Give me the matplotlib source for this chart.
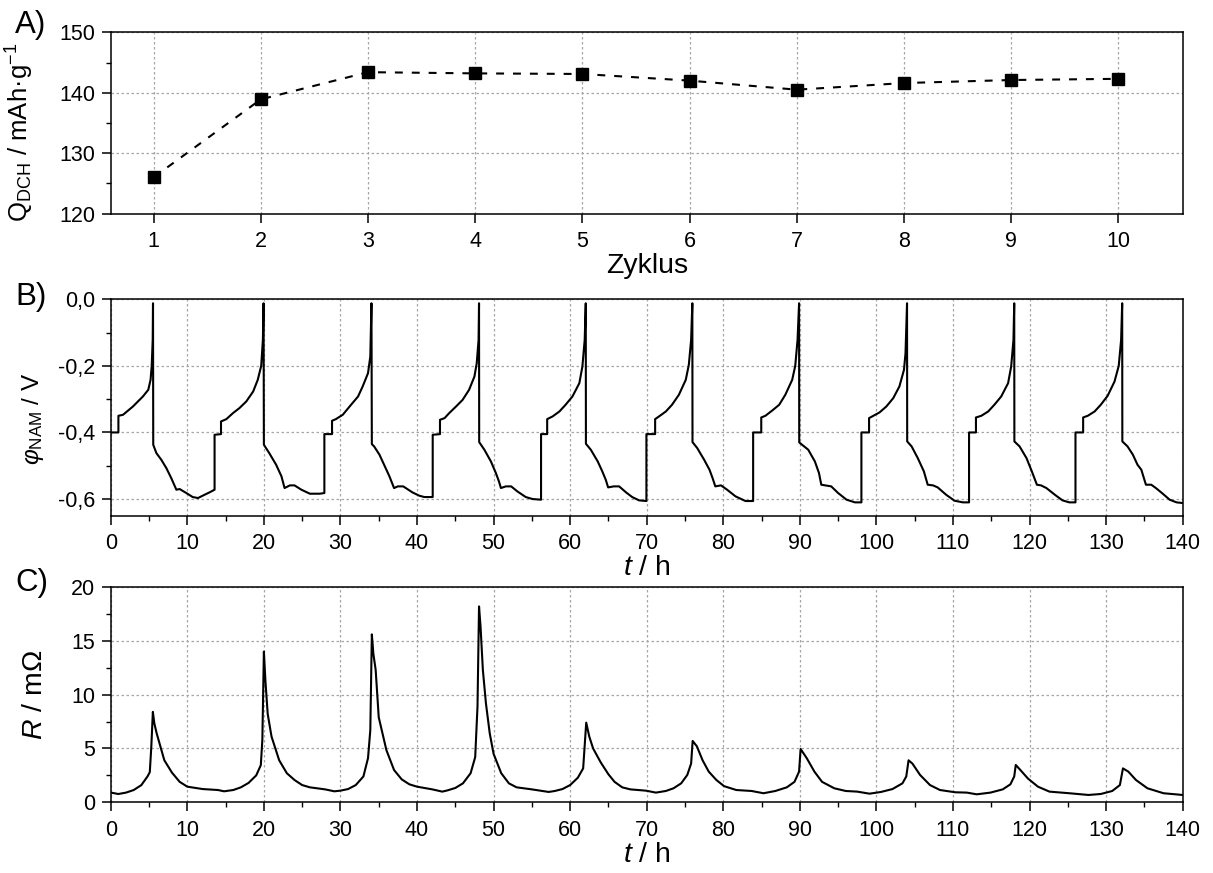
import matplotlib
matplotlib.use("Agg")
import matplotlib.pyplot as plt
from matplotlib.ticker import MultipleLocator, FuncFormatter

plt.rcParams["font.family"] = ["Liberation Sans", "DejaVu Sans"]
plt.rcParams["mathtext.fontset"] = "custom"
plt.rcParams["mathtext.rm"] = "Liberation Sans"
plt.rcParams["mathtext.it"] = "Liberation Sans:italic"
plt.rcParams["mathtext.bf"] = "Liberation Sans:bold"

# A) discharge capacity per cycle
cycles = [1, 2, 3, 4, 5, 6, 7, 8, 9, 10]
q_dch = [126.0, 138.9, 143.4, 143.2, 143.1, 142.0, 140.5, 141.6, 142.1, 142.3]

# B) NAM potential over time (read off the plot)
t_phi = [
    0.0, 1.0, 1.0, 1.6, 2.9, 4.2, 4.9, 5.2, 5.35, 5.48, 5.52, 5.55,
    5.96, 6.6, 7.26, 7.9, 8.57, 9.0, 9.87, 10.7, 11.4, 12.0, 12.9, 13.56, 13.56, 14.4, 14.4,
    15.1, 15.96, 16.8, 17.7, 18.6, 19.2, 19.65, 19.87, 19.96, 20.0,
    20.7, 21.6, 22.3, 22.7, 23.4, 24.0, 24.9, 26.0, 27.3, 27.9, 27.9, 28.9, 28.9,
    29.4, 30.3, 31.2, 32.3, 32.9, 33.6, 33.9, 34.05, 34.1,
    34.4, 35.1, 36.0, 36.4, 37.0, 37.5, 38.2, 39.4, 40.3, 40.96, 42.05, 42.05, 43.0, 43.0,
    43.6, 44.2, 45.1, 45.96, 46.8, 47.5, 47.8, 48.04, 48.1, 48.12,
    48.8, 49.65, 50.3, 50.7, 50.96, 51.6, 52.3, 53.1, 54.2, 55.1, 56.2, 56.2, 57.0, 57.0,
    57.7, 58.6, 59.4, 60.3, 61.2, 61.6, 61.9, 62.04, 62.06,
    62.7, 63.6, 64.2, 64.65, 64.96, 65.7, 66.4, 67.3, 68.1, 69.0, 69.96, 69.96, 71.1, 71.1,
    71.6, 72.5, 73.3, 74.2, 75.1, 75.5, 75.8, 75.96, 75.98,
    76.6, 77.5, 78.2, 78.6, 78.96, 79.7, 80.5, 81.6, 82.9, 83.9, 83.9, 84.96, 84.96,
    85.5, 86.4, 87.3, 88.1, 89.0, 89.4, 89.7, 89.9, 89.92,
    91.1, 91.96, 92.5, 92.8, 93.3, 94.1, 95.0, 96.1, 97.2, 98.04, 98.04, 99.04, 99.04,
    99.6, 100.4, 101.3, 102.2, 103.0, 103.6, 103.8, 104.0, 104.02,
    104.6, 105.4, 106.2, 106.7, 107.4, 108.0, 109.1, 110.2, 111.3, 112.1, 112.1, 113.0, 113.0,
    113.7, 114.6, 115.4, 116.3, 117.2, 117.6, 117.9, 118.0, 118.02,
    118.7, 119.6, 120.3, 120.96, 121.5, 122.2, 123.3, 124.3, 125.2, 126.0, 126.0, 127.0, 127.0,
    127.6, 128.5, 129.3, 130.2, 131.1, 131.65, 131.96, 132.1, 132.12,
    132.8, 133.5, 134.1, 134.6, 135.2, 135.9, 136.5, 137.4, 138.3, 139.2, 140.0,
]
phi = [
    -0.40, -0.40, -0.35, -0.347, -0.322, -0.292, -0.272, -0.242, -0.20, -0.122, -0.012, -0.437,
    -0.462, -0.482, -0.507, -0.537, -0.572, -0.570, -0.582, -0.594, -0.597, -0.590, -0.580, -0.572, -0.407, -0.405, -0.367,
    -0.360, -0.342, -0.327, -0.307, -0.277, -0.242, -0.200, -0.122, -0.012, -0.437,
    -0.462, -0.497, -0.532, -0.567, -0.559, -0.559, -0.572, -0.584, -0.584, -0.582, -0.405, -0.405, -0.365,
    -0.360, -0.347, -0.322, -0.292, -0.262, -0.222, -0.172, -0.012, -0.435,
    -0.442, -0.467, -0.512, -0.532, -0.567, -0.562, -0.562, -0.580, -0.590, -0.594, -0.594, -0.407, -0.405, -0.362,
    -0.357, -0.342, -0.322, -0.302, -0.272, -0.232, -0.192, -0.122, -0.012, -0.429,
    -0.452, -0.487, -0.522, -0.547, -0.567, -0.562, -0.562, -0.577, -0.594, -0.600, -0.602, -0.405, -0.405, -0.360,
    -0.352, -0.337, -0.317, -0.292, -0.252, -0.202, -0.122, -0.012, -0.434,
    -0.452, -0.487, -0.517, -0.542, -0.565, -0.562, -0.562, -0.580, -0.594, -0.604, -0.606, -0.405, -0.405, -0.360,
    -0.352, -0.337, -0.317, -0.287, -0.242, -0.197, -0.122, -0.012, -0.429,
    -0.447, -0.482, -0.512, -0.537, -0.562, -0.559, -0.572, -0.592, -0.606, -0.606, -0.400, -0.400, -0.355,
    -0.350, -0.334, -0.317, -0.287, -0.242, -0.200, -0.122, -0.012, -0.430,
    -0.452, -0.487, -0.522, -0.557, -0.559, -0.562, -0.582, -0.602, -0.610, -0.610, -0.400, -0.400, -0.357,
    -0.350, -0.340, -0.322, -0.297, -0.262, -0.212, -0.162, -0.012, -0.427,
    -0.442, -0.477, -0.517, -0.557, -0.559, -0.565, -0.587, -0.605, -0.610, -0.610, -0.400, -0.400, -0.355,
    -0.350, -0.337, -0.317, -0.292, -0.252, -0.202, -0.122, -0.012, -0.427,
    -0.442, -0.477, -0.517, -0.557, -0.559, -0.567, -0.587, -0.604, -0.610, -0.610, -0.400, -0.400, -0.355,
    -0.350, -0.337, -0.317, -0.290, -0.247, -0.200, -0.122, -0.012, -0.427,
    -0.442, -0.467, -0.497, -0.512, -0.557, -0.557, -0.567, -0.584, -0.602, -0.610, -0.612,
]

# C) resistance over time (read off the plot)
t_r = [
    0.0, 1.0, 2.0, 3.0, 4.0, 4.8, 5.1, 5.3, 5.5, 5.7, 6.0, 6.5, 7.0, 8.0, 9.0, 10.0,
    12.0, 14.0, 14.8, 16.0, 17.0, 18.0, 19.0, 19.6, 19.8, 20.0, 20.2, 20.5, 21.0, 22.0,
    23.0, 24.0, 25.0, 26.0, 28.0, 29.2, 30.0, 31.0, 32.0, 33.0, 33.6, 33.9, 34.1, 34.3,
    34.6, 35.0, 36.0, 37.0, 38.0, 39.0, 40.0, 42.0, 43.3, 44.0, 45.0, 46.0, 47.0, 47.6,
    47.9, 48.1, 48.3, 48.6, 49.0, 49.5, 50.0, 51.0, 52.0, 53.0, 55.0, 57.2, 58.0, 59.0,
    60.0, 61.0, 61.7, 62.1, 62.5, 63.0, 64.0, 65.0, 65.8, 66.8, 67.85, 69.9, 71.2, 72.5,
    73.5, 74.5, 75.3, 75.8, 76.0, 76.55, 77.3, 78.1, 79.1, 80.1, 81.7, 83.7, 85.25, 86.8,
    88.3, 89.3, 89.9, 90.1, 90.9, 91.9, 92.9, 94.5, 96.0, 97.5, 99.1, 100.6, 102.1, 103.4,
    103.9, 104.2, 104.7, 105.7, 107.0, 108.3, 110.3, 111.8, 113.1, 114.9, 116.5, 117.5,
    118.0, 118.2, 118.8, 119.8, 121.1, 122.6, 125.2, 127.7, 129.3, 130.8, 131.8, 132.2,
    132.9, 133.9, 135.4, 137.5, 140.0,
]
r_mohm = [
    0.90, 0.77, 0.90, 1.14, 1.60, 2.40, 2.80, 5.20, 8.40, 7.30, 6.40, 5.15, 3.90, 2.75, 1.90, 1.45,
    1.23, 1.14, 1.02, 1.14, 1.39, 1.80, 2.50, 3.45, 5.80, 14.0, 11.3, 8.20, 6.10, 3.90,
    2.70, 2.07, 1.60, 1.39, 1.20, 1.02, 1.08, 1.23, 1.60, 2.40, 4.10, 6.70, 15.6, 13.8,
    12.3, 7.90, 4.85, 3.00, 2.13, 1.67, 1.45, 1.20, 0.99, 1.11, 1.33, 1.76, 2.70, 4.20,
    8.90, 18.2, 16.3, 12.3, 9.20, 6.40, 4.50, 2.70, 1.76, 1.39, 1.20, 0.96, 1.05, 1.23,
    1.60, 2.28, 3.15, 7.40, 6.10, 5.00, 3.70, 2.60, 1.90, 1.39, 1.20, 1.08, 0.90, 1.05,
    1.30, 1.76, 2.54, 3.60, 5.70, 5.20, 3.90, 2.85, 2.07, 1.50, 1.14, 1.05, 0.84, 1.05,
    1.39, 1.90, 2.85, 4.95, 4.10, 2.85, 1.90, 1.30, 1.05, 0.99, 0.80, 0.96, 1.23, 1.76,
    2.40, 3.90, 3.60, 2.54, 1.60, 1.14, 0.93, 0.90, 0.74, 0.90, 1.20, 1.67,
    2.40, 3.47, 3.00, 2.20, 1.45, 0.99, 0.84, 0.68, 0.77, 1.05, 1.60, 3.15,
    2.85, 2.07, 1.30, 0.84, 0.68,
]

TICK_FS = 15.5
LABEL_FS = 20.5
grid_kw = dict(color="#a6a6a6", linestyle=(0, (2, 2)), linewidth=0.9)

fig = plt.figure(figsize=(12.13, 8.73), dpi=100)
ax_a = fig.add_axes([0.0913, 0.7554, 0.8837, 0.2076])
ax_b = fig.add_axes([0.0913, 0.4093, 0.8837, 0.2479])
ax_c = fig.add_axes([0.0913, 0.0810, 0.8837, 0.2466])

for ax in (ax_a, ax_b, ax_c):
    for sp in ax.spines.values():
        sp.set_linewidth(1.1)
    ax.tick_params(which="major", direction="out", length=6.5, width=1.1,
                   labelsize=TICK_FS, pad=4.5)
    ax.tick_params(which="minor", direction="out", length=3.5, width=1.0)
    ax.tick_params(axis="x", which="major", pad=6)
    ax.grid(True, which="major", **grid_kw)
    ax.set_axisbelow(True)

# panel A
ax_a.plot(cycles, q_dch, color="black", linestyle=(0, (3.8, 4.3)), linewidth=1.5,
          marker="s", markersize=8.5)
ax_a.set_xlim(0.6, 10.6)
ax_a.set_ylim(120, 150)
ax_a.xaxis.set_major_locator(MultipleLocator(1))
ax_a.yaxis.set_major_locator(MultipleLocator(10))
ax_a.yaxis.set_minor_locator(MultipleLocator(5))
ax_a.set_xlabel("Zyklus", fontsize=LABEL_FS, labelpad=1)
ax_a.set_ylabel(r"Q$_{\mathrm{DCH}}$ / mAh·g$^{-1}$", fontsize=18.5)
ax_a.yaxis.set_label_coords(-0.070, 0.45)

# panel B
ax_b.plot(t_phi, phi, color="black", linewidth=1.5)
ax_b.set_xlim(0, 140)
ax_b.set_ylim(-0.65, 0.0)
ax_b.xaxis.set_major_locator(MultipleLocator(10))
ax_b.xaxis.set_minor_locator(MultipleLocator(5))
ax_b.yaxis.set_major_locator(MultipleLocator(0.2))
ax_b.yaxis.set_minor_locator(MultipleLocator(0.1))
ax_b.yaxis.set_major_formatter(
    FuncFormatter(lambda v, pos: f"{v:.1f}".replace("-0.0", "0.0").replace(".", ",")))
ax_b.set_xlabel(r"$t$ / h", fontsize=LABEL_FS, labelpad=1)
ax_b.set_ylabel(r"$\varphi_{\mathrm{NAM}}$ / V", fontsize=17.5)
ax_b.yaxis.set_label_coords(-0.060, 0.45)

# panel C
ax_c.plot(t_r, r_mohm, color="black", linewidth=1.5)
ax_c.set_xlim(0, 140)
ax_c.set_ylim(0, 20)
ax_c.xaxis.set_major_locator(MultipleLocator(10))
ax_c.xaxis.set_minor_locator(MultipleLocator(5))
ax_c.yaxis.set_major_locator(MultipleLocator(5))
ax_c.yaxis.set_minor_locator(MultipleLocator(2.5))
ax_c.set_xlabel(r"$t$ / h", fontsize=LABEL_FS, labelpad=1)
ax_c.set_ylabel(r"$R$ / m$\Omega$", fontsize=LABEL_FS)
ax_c.yaxis.set_label_coords(-0.059, 0.5)

# panel letters
for letter, y_px in (("A)", 33.5), ("B)", 305.5), ("C)", 590.5)):
    fig.text(15 / 1213, 1 - y_px / 873, letter, fontsize=22.5, ha="left", va="baseline")

fig.savefig("out.png", dpi=100)
